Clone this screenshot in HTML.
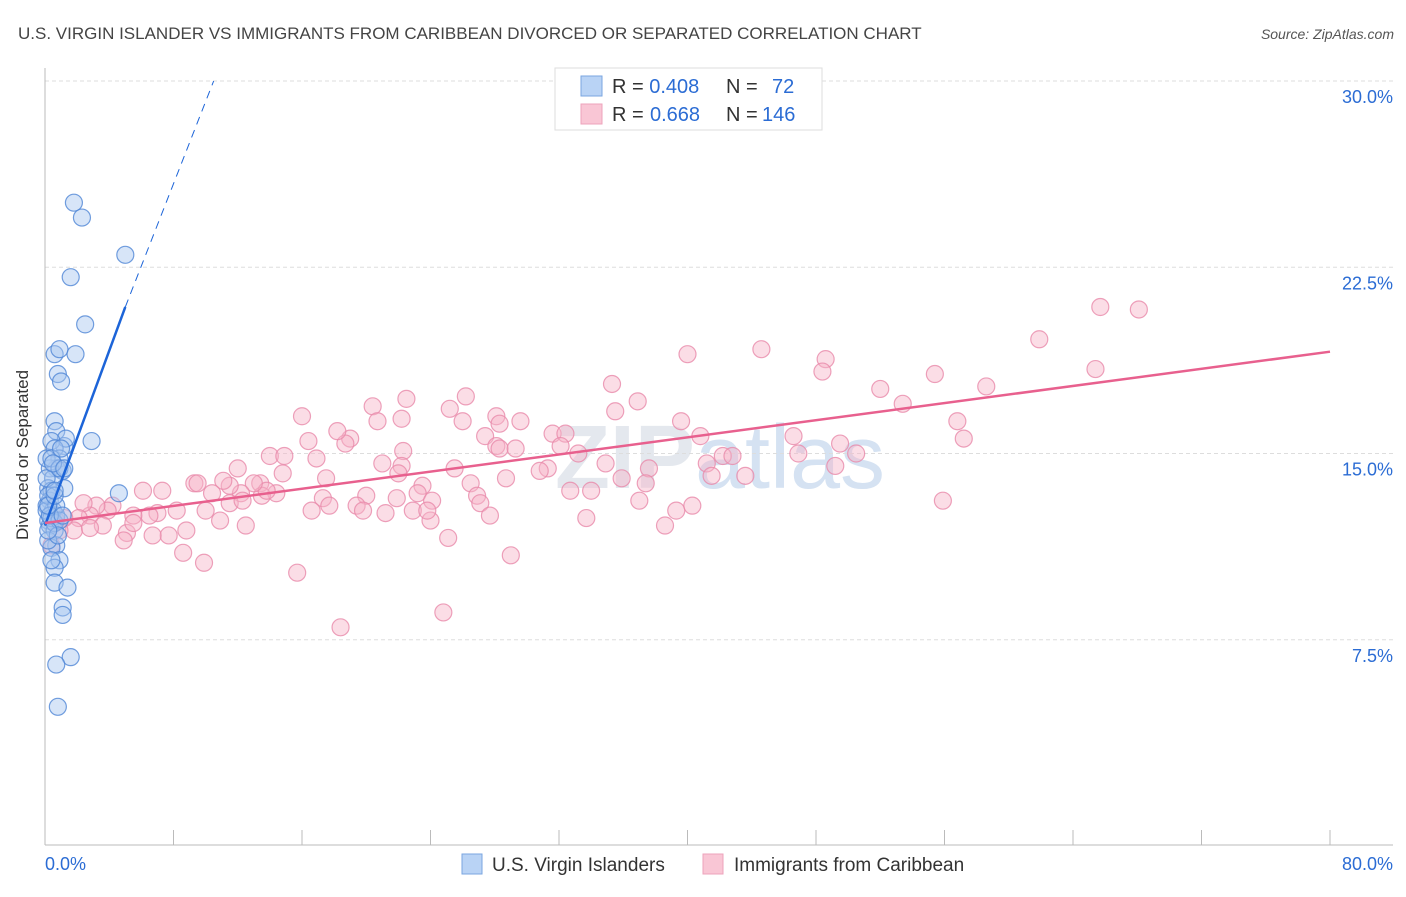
<!DOCTYPE html>
<html><head><meta charset="utf-8"><style>
body{margin:0;background:#fff;font-family:"Liberation Sans",sans-serif}
svg text{font-family:"Liberation Sans",sans-serif}
</style></head><body>
<svg width="1406" height="892" viewBox="0 0 1406 892">
<text x="18" y="39" font-size="17" fill="#444">U.S. VIRGIN ISLANDER VS IMMIGRANTS FROM CARIBBEAN DIVORCED OR SEPARATED CORRELATION CHART</text>
<text x="1394" y="39" font-size="14" fill="#555" font-style="italic" text-anchor="end">Source: ZipAtlas.com</text>
<text x="720" y="488" font-size="90" fill="#e4e8ee" text-anchor="middle" font-weight="bold">ZIP<tspan font-weight="normal" fill="#d5e2f2">atlas</tspan></text>
<g id="grid"></g>
<line x1="45" y1="68" x2="45" y2="845" stroke="#bbb"/>
<line x1="45" y1="845" x2="1393" y2="845" stroke="#bbb"/>
<g id="xticks"></g>
<text x="28" y="455" font-size="17" fill="#333" text-anchor="middle" transform="rotate(-90 28 455)">Divorced or Separated</text>
<g id="pink"></g><g id="blue"></g><g id="lines"></g>
<g>
<rect x="555" y="68" width="267" height="62" fill="#fff" stroke="#ddd"/>
<rect x="581" y="76" width="21" height="20" fill="#b9d3f5" stroke="#7aa6e0"/>
<rect x="581" y="104" width="21" height="20" fill="#f9c6d5" stroke="#eda3bb"/>
<text x="612" y="93" font-size="20" fill="#333">R = <tspan fill="#2b6cd4">0.408</tspan><tspan x="726">N = </tspan><tspan x="772" fill="#2b6cd4">72</tspan></text>
<text x="612" y="121" font-size="20" fill="#333">R = <tspan x="650" fill="#2b6cd4">0.668</tspan><tspan x="726">N = </tspan><tspan x="762" fill="#2b6cd4">146</tspan></text>
</g>
<text x="45" y="870" font-size="18" fill="#2b6cd4">0.0%</text>
<text x="1393" y="870" font-size="18" fill="#2b6cd4" text-anchor="end">80.0%</text>
<g>
<rect x="462" y="854" width="20" height="20" fill="#b9d3f5" stroke="#7aa6e0"/>
<text x="492" y="871" font-size="19" fill="#333">U.S. Virgin Islanders</text>
<rect x="703" y="854" width="20" height="20" fill="#f9c6d5" stroke="#eda3bb"/>
<text x="734" y="871" font-size="19" fill="#333">Immigrants from Caribbean</text>
</g>
</svg>
<script>
const yTicks=[7.5,15,22.5,30];
const yTickLabels=["7.5%","15.0%","22.5%","30.0%"];
const xTickVals=[0,8,16,24,32,40,48,56,64,72,80];
const blueX=[1.8,2.3,5.0,1.6,2.5,0.6,0.9,1.9,0.8,1.0,2.9,0.6,0.7,1.2,1.3,0.4,0.6,0.9,0.7,1.1,0.3,0.5,1.2,0.2,0.4,4.6,0.3,0.1,0.5,0.7,0.2,0.3,0.6,0.7,0.4,0.9,0.6,0.6,1.4,1.1,1.1,1.6,0.7,0.8,0.2,0.1,0.4,0.6,0.2,0.1,0.1,0.4,0.7,0.9,0.3,0.8,1.1,0.2,0.6,0.9,0.5,1.0,0.2,0.4,1.2,0.6];
const blueY=[25.1,24.5,23.0,22.1,20.2,19.0,19.2,19.0,18.2,17.9,15.5,16.3,15.9,15.3,15.6,15.5,15.2,14.8,14.4,14.3,14.4,14.0,13.6,13.6,13.5,13.4,13.1,12.9,12.7,12.5,12.3,12.1,11.9,11.3,11.2,10.7,10.4,9.8,9.6,8.8,8.5,6.8,6.5,4.8,11.5,12.7,12.4,12.2,13.3,14.0,14.8,14.8,12.9,12.3,12.5,11.7,12.5,12.9,13.3,14.4,14.6,15.2,11.9,10.7,14.4,13.5];
const pinkX=[65.7,68.1,61.9,65.4,40.0,44.6,48.6,48.4,55.4,52.0,58.6,53.4,56.8,57.2,55.9,46.6,46.9,49.5,50.5,49.2,43.6,35.3,35.5,36.9,39.6,40.8,41.2,41.5,42.2,42.8,34.9,35.9,37.6,37.4,37.0,39.3,40.3,38.6,33.2,31.6,32.4,32.1,31.3,30.8,32.7,34.0,33.7,25.2,26.2,26.0,28.1,28.3,29.6,27.4,28.1,28.3,29.3,25.5,26.5,26.9,27.1,27.7,28.7,29.0,25.1,24.8,22.5,22.2,20.4,20.7,19.0,18.7,18.2,22.3,22.2,21.0,22.0,23.5,23.2,24.1,22.9,24.0,23.8,21.9,21.2,20.0,19.4,19.8,18.4,16.0,16.4,16.9,17.5,17.3,17.7,16.6,15.7,14.0,14.9,14.8,14.4,13.4,13.5,13.8,13.0,12.0,12.2,11.5,11.5,12.3,11.1,10.4,9.3,9.5,10.0,10.9,12.5,8.8,8.6,9.9,8.2,7.3,6.1,7.0,6.5,5.5,7.7,6.7,5.1,4.9,4.2,3.9,3.2,2.8,2.4,2.1,1.8,1.2,0.9,0.6,0.4,3.6,5.5,2.8,0.7];
const pinkY=[20.9,20.8,19.6,18.4,19.0,19.2,18.8,18.3,18.2,17.6,17.7,17.0,16.3,15.6,13.1,15.7,15.0,15.4,15.0,14.5,14.1,17.8,16.7,17.1,16.3,15.7,14.6,14.1,14.9,14.9,14.6,14.0,14.4,13.8,13.1,12.7,12.9,12.1,15.0,15.8,15.8,15.3,14.4,14.3,13.5,13.5,12.4,16.8,17.3,16.3,16.5,16.2,16.3,15.7,15.3,15.2,15.2,14.4,13.8,13.3,13.0,12.5,14.0,10.9,11.6,8.6,17.2,16.4,16.9,16.3,15.6,15.4,15.9,15.1,14.5,14.6,14.2,13.7,13.4,13.1,12.7,12.3,12.7,13.2,12.6,13.3,12.9,12.7,8.0,16.5,15.5,14.8,14.0,13.2,12.9,12.7,10.2,14.9,14.9,14.2,13.4,13.8,13.3,13.5,13.8,14.4,13.4,13.7,13.0,13.1,13.9,13.4,13.8,13.8,12.7,12.3,12.1,11.9,11.0,10.6,12.7,13.5,13.5,12.6,12.5,12.5,11.7,11.7,11.8,11.5,12.9,12.7,12.9,12.5,13.0,12.4,11.9,12.4,11.9,12.2,11.3,12.1,12.2,12.0,12.3];
const blueTrend=[[0,12.1],[5.0,20.9],[10.5,30.0]];
const pinkTrend=[[0,12.2],[80,19.1]];
const NS='http://www.w3.org/2000/svg';
const X0=45,X1=1330,Y0=826,Y30=81;
const xs=v=>X0+(X1-X0)*v/80;
const ys=v=>Y0-(Y0-Y30)*v/30;
function mk(t,a,p){const e=document.createElementNS(NS,t);for(const k in a)e.setAttribute(k,a[k]);p.appendChild(e);return e;}
const grid=document.getElementById('grid');
yTicks.forEach((v,i)=>{
 const l=mk('line',{x1:X0,x2:1393,y1:ys(v),y2:ys(v),stroke:'#ddd','stroke-dasharray':'4,3'},grid);
 
 
 const t=mk('text',{x:1393,y:ys(v)+22,'font-size':18,fill:'#2b6cd4','text-anchor':'end'},grid);
 t.textContent=yTickLabels[i];
 
 
});
const xt=document.getElementById('xticks');
xTickVals.forEach(v=>{
 const l=mk('line',{x1:xs(v),x2:xs(v),y1:830,y2:845,stroke:'#bbb'},xt);
 
 
});
function pts(gx,X,Y,fill,stroke,name){
 const g=document.getElementById(gx);
 X.forEach((x,i)=>{
  const c=mk('circle',{cx:xs(x),cy:ys(Y[i]),r:8.5,fill:fill,'fill-opacity':0.45,stroke:stroke,'stroke-opacity':0.8,'stroke-width':1.2},g);
  
  
 });
}
pts('pink',pinkX,pinkY,'#f7b3c8','#e98aaa','caribbean-point');
pts('blue',blueX,blueY,'#a7c6f0','#4f86d6','virgin-islander-point');
const lg=document.getElementById('lines');
const bs=mk('line',{x1:xs(blueTrend[0][0]),y1:ys(blueTrend[0][1]),x2:xs(blueTrend[1][0]),y2:ys(blueTrend[1][1]),stroke:'#1c64d8','stroke-width':2.5},lg);


const bd=mk('line',{x1:xs(blueTrend[1][0]),y1:ys(blueTrend[1][1]),x2:xs(blueTrend[2][0]),y2:ys(blueTrend[2][1]),stroke:'#1c64d8','stroke-width':1,'stroke-dasharray':'8,6'},lg);


const pl=mk('line',{x1:xs(pinkTrend[0][0]),y1:ys(pinkTrend[0][1]),x2:xs(pinkTrend[1][0]),y2:ys(pinkTrend[1][1]),stroke:'#e8608e','stroke-width':2.5},lg);


</script>
</body></html>
